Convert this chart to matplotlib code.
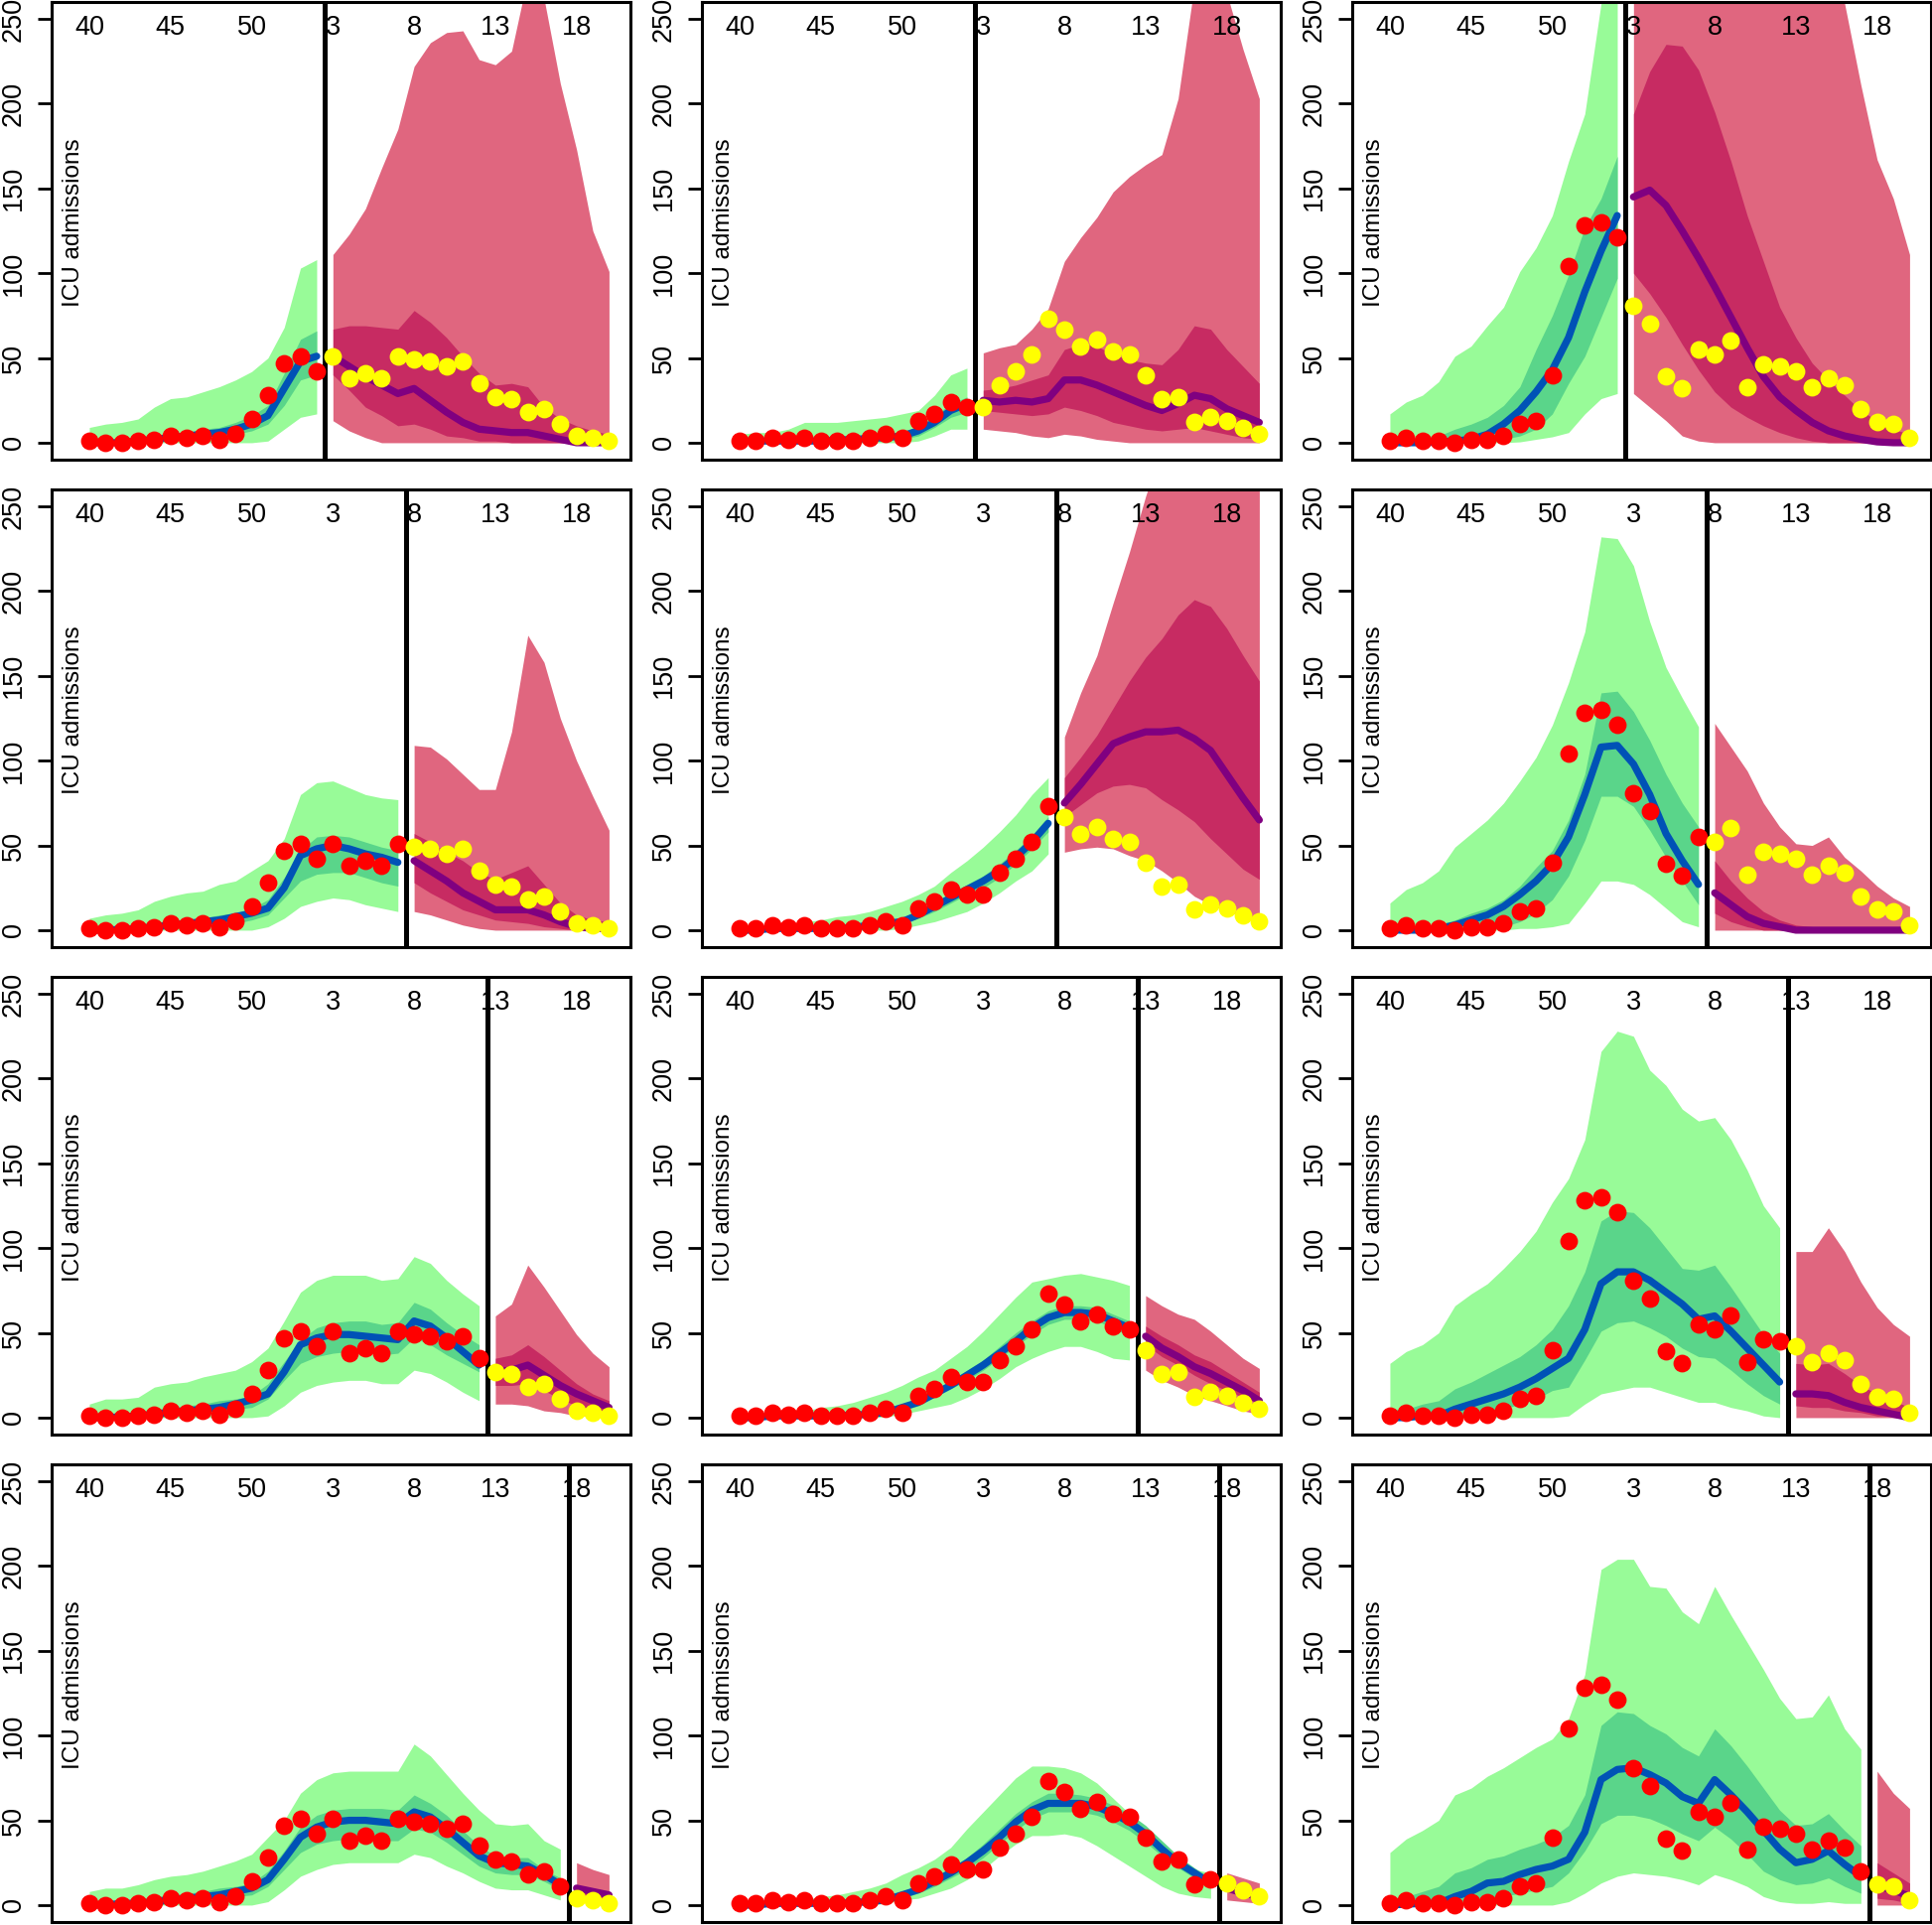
import matplotlib
matplotlib.use("Agg")
import matplotlib.pyplot as plt
import numpy as np

plt.rcParams["font.family"] = ["Liberation Sans", "DejaVu Sans"]

# week axis: index 0 = week 40, index 13 = week 1 of the next year
week_ticks = [0, 5, 10, 15, 20, 25, 30]
week_labels = ["40", "45", "50", "3", "8", "13", "18"]

# last week index used for fitting, one value per row
fit_end = [14, 19, 24, 29]

# observed ICU admissions, one series per column
obs_c1 = [1, 0, 0, 1, 2, 4, 3, 4, 2, 5, 14, 28, 47, 51, 42, 51, 38, 41, 38, 51, 49, 48, 45, 48, 35, 27, 26, 18, 20, 11, 4, 3, 1]
obs_c2 = [1, 1, 3, 2, 3, 1, 1, 1, 3, 5, 3, 13, 17, 24, 21, 21, 34, 42, 52, 73, 67, 57, 61, 54, 52, 40, 26, 27, 12, 15, 13, 9, 5]
obs_c3 = [1, 3, 1, 1, 0, 2, 2, 4, 11, 13, 40, 104, 128, 130, 121, 81, 70, 39, 32, 55, 52, 60, 33, 46, 45, 42, 33, 38, 34, 20, 12, 11, 3]

# model bands (fit part up to fit_end, forecast after it)
r1c1_lo95 = [0, 0, 0, 0, 0, 0, 0, 0, 0, 0, 0, 1, 8, 15, 17, 13, 7, 3, 0, 0, 0, 0, 0, 0, 0, 0, 0, 0, 0, 0, 0, 0, 0]
r1c1_lo50 = [0, 0, 0, 0, 1, 1, 2, 3, 4, 5, 7, 11, 22, 37, 40, 40, 31, 21, 16, 10, 11, 8, 4, 3, 1, 1, 0, 0, 0, 0, 0, 0, 0]
r1c1_med = [0, 0, 0, 1, 2, 3, 4, 5, 6, 8, 11, 16, 32, 48, 51, 51, 45, 39, 34, 29, 32, 25, 18, 12, 8, 7, 6, 6, 4, 2, 0, 0, 0]
r1c1_hi50 = [1, 1, 2, 3, 4, 5, 6, 8, 9, 12, 16, 22, 41, 61, 66, 67, 69, 69, 68, 67, 78, 71, 62, 51, 41, 34, 35, 33, 21, 14, 10, 7, 5]
r1c1_hi95 = [9, 11, 12, 14, 21, 26, 27, 30, 33, 37, 42, 50, 68, 103, 108, 111, 123, 138, 162, 185, 222, 236, 242, 243, 226, 223, 231, 275, 262, 212, 173, 125, 101]

r1c2_lo95 = [0, 0, 0, 0, 0, 0, 0, 0, 0, 0, 0, 1, 4, 8, 8, 8, 7, 6, 4, 3, 5, 4, 2, 1, 0, 0, 0, 0, 0, 0, 0, 0, 0]
r1c2_lo50 = [0, 0, 0, 0, 0, 0, 1, 1, 1, 2, 2, 4, 9, 15, 18, 19, 18, 17, 16, 17, 21, 19, 16, 12, 10, 8, 7, 8, 9, 7, 5, 3, 2]
r1c2_med = [1, 1, 1, 1, 1, 1, 1.5, 2, 2.5, 3, 4, 7, 12, 19, 23, 25, 24, 25, 24, 26, 37, 37, 34, 30, 26, 22, 19, 23, 28, 26, 20, 16, 12]
r1c2_hi50 = [2, 2, 2, 2, 2, 2, 3, 3, 4, 5, 6, 10, 16, 23, 27, 31, 32, 34, 37, 40, 55, 58, 57, 52, 49, 47, 46, 55, 69, 67, 55, 45, 35]
r1c2_hi95 = [5, 6, 6, 8, 12, 12, 12, 13, 14, 15, 17, 19, 28, 40, 44, 53, 56, 58, 67, 79, 107, 121, 133, 148, 157, 164, 170, 203, 270, 290, 265, 232, 203]

r1c3_lo95 = [0, 0, 0, 0, 0, 0, 0, 0, 0.5, 2, 3.5, 6, 17, 26, 29, 29, 21, 13, 4, 1, 0, 0, 0, 0, 0, 0, 0, 0, 0, 0, 0, 0, 0]
r1c3_lo50 = [0, 0, 0, 0, 0, 1, 2, 2, 4, 8, 17, 35, 51, 74, 97, 100, 88, 74, 58, 43, 30, 21, 15, 10, 6, 3, 1, 0, 0, 0, 0, 0, 0]
r1c3_med = [0, 0, 0, 0.5, 1, 2, 5, 11, 19, 30, 43, 62, 89, 113, 134, 145, 149, 140, 125, 109, 92, 74, 56, 39, 27, 19, 12, 7, 4, 2, 0.5, 0, 0]
r1c3_hi50 = [1, 2, 3, 4, 8, 11, 15, 22, 33, 55, 75, 99, 127, 144, 169, 194, 219, 235, 234, 220, 195, 166, 134, 107, 80, 62, 47, 37, 28, 19, 13, 8, 5]
r1c3_hi95 = [17, 24, 28, 36, 51, 57, 69, 80, 101, 115, 134, 166, 194, 259, 300, 330, 360, 380, 390, 390, 385, 375, 360, 345, 330, 315, 295, 275, 259, 211, 167, 144, 111]

r2c1_lo95 = [0, 0, 0, 0, 0, 0, 0, 0, 0, 0, 0, 2, 7, 14, 17, 19, 18, 15, 13, 11, 11, 9, 6, 3, 1, 0, 0, 0, 0, 0, 0, 0, 0]
r2c1_lo50 = [0, 0, 0, 0, 0, 1, 2, 2, 3, 4, 6, 9, 19, 29, 33, 34, 34, 31, 28, 26, 28, 22, 17, 12, 9, 6, 5, 4, 2, 1, 0, 0, 0]
r2c1_med = [0, 0, 0.5, 1, 2, 3, 4, 5, 6, 8, 10, 13, 25, 44, 48, 50, 48, 45, 43, 40, 41, 35, 29, 22, 17, 12, 12, 12, 9, 5, 2, 1, 1]
r2c1_hi50 = [1, 1, 2, 3, 3, 5, 6, 7, 9, 10, 13, 18, 31, 47, 55, 56, 55, 52, 49, 47, 57, 52, 46, 41, 34, 30, 34, 38, 27, 16, 9, 6, 5]
r2c1_hi95 = [7, 9, 10, 12, 17, 20, 22, 23, 27, 29, 35, 41, 54, 80, 87, 88, 84, 80, 78, 77, 109, 108, 101, 92, 83, 83, 117, 174, 158, 125, 100, 79, 59]

r2c2_lo95 = [0, 0, 0, 0, 0, 0, 0, 0, 0, 0, 1, 3, 5, 8, 11, 16, 22, 29, 35, 45, 46, 48, 49, 48, 44, 41, 35, 28, 20, 15, 11, 8, 6]
r2c2_lo50 = [0, 0, 0, 0, 0, 0, 0, 1, 2, 3, 4, 7, 11, 16, 21, 25, 31, 39, 48, 58, 67, 74, 81, 85, 86, 84, 77, 71, 64, 54, 45, 36, 30]
r2c2_med = [0, 0, 1, 1, 1, 1, 1, 1.5, 3, 4, 5, 9, 14, 19, 24, 29, 35, 43, 52, 63, 75, 86, 98, 110, 114, 117, 117, 118, 113, 106, 92, 78, 65]
r2c2_hi50 = [1, 1, 2, 2, 2, 2, 2, 3, 4, 5, 7, 11, 16, 21, 27, 32, 39, 47, 56, 67, 90, 102, 115, 131, 147, 161, 172, 186, 195, 191, 178, 162, 147]
r2c2_hi95 = [2, 2, 3, 3, 5, 6, 8, 9, 11, 14, 17, 21, 26, 34, 41, 49, 58, 68, 80, 90, 114, 140, 162, 193, 223, 256, 285, 300, 310, 320, 320, 320, 320]

r2c3_lo95 = [0, 0, 0, 0, 0, 0, 0, 0, 1, 1, 2, 4, 16, 29, 29, 27, 21, 13, 5, 2, 0, 0, 0, 0, 0, 0, 0, 0, 0, 0, 0, 0, 0]
r2c3_lo50 = [0, 0, 0, 0, 0, 1, 2, 2, 5, 10, 18, 32, 53, 79, 79, 73, 59, 43, 29, 15, 10, 5, 2, 0, 0, 0, 0, 0, 0, 0, 0, 0, 0]
r2c3_med = [0, 0, 0, 1, 3, 6, 9, 14, 21, 29, 39, 55, 80, 108, 109, 98, 80, 57, 41, 27, 22, 15, 8, 4, 2, 0, 0, 0, 0, 0, 0, 0, 0]
r2c3_hi50 = [1, 2, 3, 3, 6, 10, 13, 18, 26, 37, 47, 65, 92, 140, 141, 129, 112, 92, 75, 61, 41, 29, 19, 11, 6, 3, 2, 1, 1, 0, 0, 0, 0]
r2c3_hi95 = [16, 24, 28, 35, 49, 57, 65, 75, 88, 102, 121, 146, 176, 232, 231, 215, 182, 155, 137, 120, 122, 108, 94, 75, 61, 51, 50, 55, 43, 35, 26, 19, 14]

r3c1_lo95 = [0, 0, 0, 0, 0, 0, 0, 0, 0, 0, 0, 1, 7, 15, 19, 21, 22, 22, 20, 20, 28, 26, 21, 15, 10, 8, 8, 7, 4, 3, 1, 1, 0]
r3c1_lo50 = [0, 0, 0, 0, 0, 1, 2, 3, 4, 5, 6, 11, 22, 32, 36, 38, 39, 39, 37, 38, 47, 43, 37, 32, 27, 19, 19, 20, 16, 11, 7, 5, 3]
r3c1_med = [0, 0, 0.5, 1, 2, 3, 4, 5, 6, 8, 10.5, 14, 27, 43, 47, 49, 49, 48, 47, 46, 57, 54, 47, 39, 31, 27, 28, 31, 25, 19, 14, 10, 6]
r3c1_hi50 = [2, 2, 3, 3, 5, 6, 7, 8, 10, 11, 13, 20, 33, 46, 53, 56, 57, 57, 55, 56, 68, 64, 56, 49, 43, 35, 37, 43, 36, 28, 20, 14, 10]
r3c1_hi95 = [8, 11, 11, 12, 18, 20, 21, 24, 26, 28, 33, 41, 57, 74, 81, 84, 84, 84, 81, 82, 95, 91, 81, 73, 66, 60, 67, 90, 77, 63, 49, 38, 30]

r3c2_lo95 = [0, 0, 0, 0, 0, 0, 0, 0, 0, 0.5, 2, 4, 6, 8, 12, 17, 23, 30, 35, 39, 42, 42, 39, 35, 34, 28, 22, 18, 13, 10, 7, 4, 2]
r3c2_lo50 = [0, 0, 0, 0, 0, 0, 0, 1, 1, 2, 4, 7, 12, 17, 22, 28, 35, 42, 49, 55, 58, 58, 57, 53, 48, 43, 36, 31, 25, 20, 16, 12, 8]
r3c2_med = [0, 0, 1, 1, 1, 1, 1, 1.5, 2, 3, 6, 9, 14, 19, 25, 31, 38, 45, 53, 59, 62, 62, 61, 57, 53, 48, 41, 36, 30, 26, 21, 16, 10]
r3c2_hi50 = [1, 1, 2, 2, 2, 2, 2, 2, 3, 4, 7, 11, 16, 22, 28, 34, 42, 50, 57, 63, 66, 66, 65, 61, 57, 54, 48, 43, 37, 33, 27, 21, 15]
r3c2_hi95 = [1, 2, 3, 3, 4, 6, 7, 9, 12, 15, 19, 24, 28, 35, 42, 51, 61, 71, 80, 82, 84, 85, 83, 81, 78, 72, 66, 61, 58, 51, 43, 35, 29]

r3c3_lo95 = [0, 0, 0, 0, 0, 0, 0, 0, 0, 0, 0, 1, 8, 14, 16, 18, 18, 15, 12, 9, 9, 6, 4, 1, 0, 0, 0, 0, 0, 0, 0, 0, 0]
r3c3_lo50 = [0, 0, 0, 0, 1, 2, 3, 5, 8, 11, 16, 18, 34, 51, 56, 57, 53, 48, 41, 36, 35, 28, 20, 13, 8, 7, 6, 6, 4, 3, 1, 1, 0]
r3c3_med = [0, 0, 1, 1, 5, 8, 11, 14, 18, 23, 29, 35, 52, 79, 86, 86, 81, 74, 67, 58, 60, 51, 41, 31, 21, 14, 14, 13, 9, 6, 4, 2, 0]
r3c3_hi50 = [5, 5, 8, 10, 17, 21, 26, 31, 36, 43, 52, 66, 86, 116, 122, 121, 112, 100, 88, 87, 90, 77, 63, 49, 38, 32, 31, 32, 26, 19, 14, 10, 6]
r3c3_hi95 = [32, 39, 43, 50, 66, 73, 79, 88, 98, 110, 127, 141, 164, 216, 228, 225, 205, 196, 182, 175, 177, 164, 146, 125, 112, 98, 98, 112, 98, 80, 65, 55, 48]

r4c1_lo95 = [0, 0, 0, 0, 0, 0, 0, 0, 0, 0, 0, 2, 9, 17, 21, 24, 25, 25, 25, 25, 30, 28, 23, 19, 14, 10, 9, 9, 6, 3, 2, 1, 1]
r4c1_lo50 = [0, 0, 0, 0, 0, 1, 2, 3, 4, 5, 6, 11, 21, 31, 36, 38, 39, 39, 38, 38, 45, 43, 37, 30, 23, 19, 18, 18, 14, 9, 7, 5, 3]
r4c1_med = [0, 0, 1, 1, 2, 3, 4, 5, 6, 8, 10, 15, 27, 40, 46, 49, 50, 50, 49, 48, 55, 52, 45, 37, 29, 25, 24, 23, 18, 12, 10, 8, 6]
r4c1_hi50 = [2, 2, 3, 3, 5, 6, 7, 8, 10, 11, 13, 20, 32, 46, 53, 56, 57, 57, 57, 56, 65, 60, 53, 44, 35, 29, 28, 28, 21, 16, 12, 10, 8]
r4c1_hi95 = [8, 10, 10, 12, 15, 17, 18, 20, 23, 26, 30, 40, 50, 66, 74, 78, 79, 79, 79, 79, 95, 88, 77, 66, 56, 48, 47, 48, 38, 33, 25, 21, 18]

r4c2_lo95 = [0, 0, 0, 0, 0, 0, 0, 0, 0, 1, 3, 4, 7, 10, 15, 21, 29, 36, 41, 41, 42, 40, 35, 29, 23, 17, 11, 7, 5, 4, 3, 2, 1]
r4c2_lo50 = [0, 0, 0, 0, 0, 0, 0, 1, 1, 2, 4, 7, 11, 16, 21, 28, 36, 44, 51, 55, 55, 55, 53, 49, 44, 37, 29, 22, 16, 10, 8, 6, 4]
r4c2_med = [0, 0, 1, 1, 1, 1, 1, 1.5, 2, 3, 6, 9, 14, 19, 25, 32, 40, 49, 56, 60, 60, 60, 58, 54, 49, 42, 33, 25, 19, 13, 10, 7, 5]
r4c2_hi50 = [1, 1, 2, 2, 2, 2, 2, 2, 3, 4, 8, 12, 17, 22, 28, 36, 45, 54, 61, 66, 66, 65, 63, 59, 54, 47, 38, 29, 22, 16, 12, 9, 7]
r4c2_hi95 = [1, 2, 3, 3, 3, 5, 6, 8, 10, 13, 18, 22, 27, 34, 45, 55, 65, 75, 82, 82, 81, 78, 72, 63, 54, 43, 33, 26, 21, 19, 19, 16, 13]

r4c3_lo95 = [0, 0, 0, 0, 0, 0, 0, 0, 0, 0, 0, 2, 7, 13, 17, 19, 18, 17, 15, 12, 18, 15, 11, 5, 2, 1, 1, 2, 1, 1, 0, 0, 0]
r4c3_lo50 = [0, 0, 0, 0, 1, 2, 3, 5, 7, 9, 11, 19, 32, 48, 53, 53, 51, 47, 42, 38, 46, 39, 30, 20, 15, 12, 13, 16, 11, 7, 4, 3, 1]
r4c3_med = [0, 0.5, 1, 1, 5, 8, 13, 14, 18, 21, 23, 27, 43, 74, 80, 81, 77, 72, 64, 60, 74, 65, 55, 44, 33, 25, 27, 32, 24, 17, 11, 9, 5]
r4c3_hi50 = [4, 5, 8, 11, 19, 22, 27, 29, 33, 36, 40, 47, 65, 106, 114, 113, 106, 101, 93, 88, 104, 94, 82, 69, 56, 47, 48, 54, 44, 35, 25, 19, 13]
r4c3_hi95 = [31, 39, 44, 50, 65, 69, 76, 81, 87, 93, 98, 110, 136, 198, 204, 204, 188, 187, 173, 166, 188, 171, 155, 139, 122, 110, 111, 124, 104, 92, 79, 66, 57]

LIGHT_GREEN = "#98FB98"
DARK_GREEN = "#5AD58A"
BLUE = "#0052B6"
LIGHT_PINK = "#E0667F"
DARK_PINK = "#C72B62"
PURPLE = "#800080"

observed = [obs_c1, obs_c2, obs_c3]
bands = [
    [(r1c1_lo95, r1c1_lo50, r1c1_med, r1c1_hi50, r1c1_hi95),
     (r1c2_lo95, r1c2_lo50, r1c2_med, r1c2_hi50, r1c2_hi95),
     (r1c3_lo95, r1c3_lo50, r1c3_med, r1c3_hi50, r1c3_hi95)],
    [(r2c1_lo95, r2c1_lo50, r2c1_med, r2c1_hi50, r2c1_hi95),
     (r2c2_lo95, r2c2_lo50, r2c2_med, r2c2_hi50, r2c2_hi95),
     (r2c3_lo95, r2c3_lo50, r2c3_med, r2c3_hi50, r2c3_hi95)],
    [(r3c1_lo95, r3c1_lo50, r3c1_med, r3c1_hi50, r3c1_hi95),
     (r3c2_lo95, r3c2_lo50, r3c2_med, r3c2_hi50, r3c2_hi95),
     (r3c3_lo95, r3c3_lo50, r3c3_med, r3c3_hi50, r3c3_hi95)],
    [(r4c1_lo95, r4c1_lo50, r4c1_med, r4c1_hi50, r4c1_hi95),
     (r4c2_lo95, r4c2_lo50, r4c2_med, r4c2_hi50, r4c2_hi95),
     (r4c3_lo95, r4c3_lo50, r4c3_med, r4c3_hi50, r4c3_hi95)],
]


def draw_band(ax, x, sl, band, c_outer, c_inner, c_line):
    lo95, lo50, med, hi50, hi95 = [np.asarray(b, dtype=float)[sl] for b in band]
    xs = x[sl]
    ax.fill_between(xs, lo95, hi95, color=c_outer, lw=0, zorder=1)
    ax.fill_between(xs, lo50, hi50, color=c_inner, lw=0, zorder=2)
    ax.plot(xs, med, color=c_line, lw=5.2, solid_capstyle="round", zorder=3)


def draw_panel(ax, obs, band, k):
    x = np.arange(len(obs))
    obs = np.asarray(obs, dtype=float)
    fit = slice(0, k + 1)
    fc = slice(k + 1, len(obs))

    draw_band(ax, x, fit, band, LIGHT_GREEN, DARK_GREEN, BLUE)
    draw_band(ax, x, fc, band, LIGHT_PINK, DARK_PINK, PURPLE)

    for t, lab in zip(week_ticks, week_labels):
        ax.text(t, 245, lab, ha="center", va="center", fontsize=19.5, zorder=4)
    ax.text(-1.0, 130, "ICU admissions", rotation=90, ha="center", va="center",
            fontsize=17.5, zorder=4)

    ax.axvline(k + 0.5, color="black", lw=3.6, zorder=5)

    ax.scatter(x[fit], obs[fit], s=165, color="#FF0000", lw=0, zorder=6)
    ax.scatter(x[fc], obs[fc], s=165, color="#FFFF00", lw=0, zorder=6)

    ax.set_xlim(-2.32, 33.32)
    ax.set_ylim(-10, 260)
    ax.set_xticks([])
    ax.set_yticks(range(0, 251, 50))
    ax.tick_params(axis="y", length=10, width=2, pad=8, labelsize=19.5, labelrotation=90)
    for lbl in ax.get_yticklabels():
        lbl.set_va("center")
    for sp in ax.spines.values():
        sp.set_linewidth(2.2)


fig = plt.figure(figsize=(19.46, 19.39), dpi=100)
fig.patch.set_facecolor("white")

lefts = [52 / 1946, 707 / 1946, 1362 / 1946]
bottoms = [1 - 463 / 1939, 1 - 954 / 1939, 1 - 1445 / 1939, 1 - 1936 / 1939]
ax_w = 583 / 1946
ax_h = 461 / 1939

for r in range(4):
    for c in range(3):
        ax = fig.add_axes([lefts[c], bottoms[r], ax_w, ax_h])
        draw_panel(ax, observed[c], bands[r][c], fit_end[r])

fig.savefig("out.png", dpi=100, facecolor="white")
